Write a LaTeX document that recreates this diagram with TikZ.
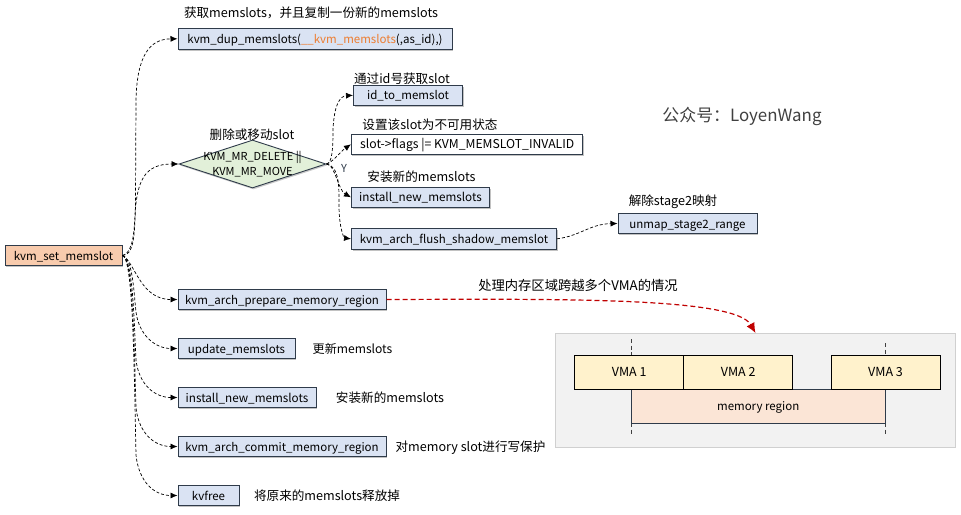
\documentclass[tikz,border=0pt]{standalone}
\usepackage{fontspec}
\setmainfont{Noto Sans CJK SC}
\usetikzlibrary{arrows.meta,shapes.geometric,shadows}
\definecolor{edgeC}{HTML}{2F3B4A}
\definecolor{blueF}{HTML}{DAE3F3}
\definecolor{orangeF}{HTML}{F8CBAD}
\definecolor{greenF}{HTML}{E2F0D9}
\definecolor{vmaF}{HTML}{FFF2CC}
\definecolor{memF}{HTML}{FBE5D6}
\definecolor{panelF}{HTML}{F2F2F2}
\definecolor{panelD}{HTML}{D0D0D0}
\definecolor{redC}{HTML}{C00000}
\definecolor{orangeT}{HTML}{ED7D31}
\tikzset{
 txt/.style={inner sep=0pt,font=\fontsize{11.5}{13}\selectfont,text=black,text height=11pt,text depth=2pt},
 base/.style={txt,draw=edgeC,line width=1pt,
   drop shadow={shadow xshift=1pt,shadow yshift=-1.5pt,fill=black!40,opacity=0.6}},
 bluebox/.style={base,fill=blueF,minimum height=20.5pt},
 whitebox/.style={base,fill=white,minimum height=20.5pt},
 rootbox/.style={base,fill=orangeF,minimum height=20.5pt},
 vma/.style={txt,font=\fontsize{12.5}{14}\selectfont,draw=black,line width=0.8pt,fill=vmaF,minimum width=109pt,minimum height=34pt},
 label/.style={txt,font=\fontsize{12.6}{14}\selectfont},
 conn/.style={draw=black,line width=0.7pt,dash pattern=on 3pt off 2pt,-{Latex[length=7pt,width=6pt]}},
 guide/.style={draw=black!75,line width=0.7pt,dash pattern=on 4pt off 2.5pt},
}
\begin{document}
\begin{tikzpicture}[x=1pt,y=-1pt]
\useasboundingbox (0,0) rectangle (961,514);
% panel
\node[draw=panelD,line width=0.8pt,fill=panelF,minimum width=399.5pt,minimum height=113.5pt,inner sep=0pt,
  drop shadow={shadow xshift=0.8pt,shadow yshift=-1pt,fill=black!25,opacity=0.5}] (panel) at (755.2,390.5) {};
\coordinate (g1a) at (631,339); \coordinate (g1b) at (631,355);
\coordinate (g2a) at (885.5,343); \coordinate (g2b) at (885.5,355);
\coordinate (g3a) at (631,423); \coordinate (g3b) at (631,435);
\coordinate (g4a) at (885.5,423); \coordinate (g4b) at (885.5,435);
\draw[guide] (g1a)--(g1b); \draw[guide] (g2a)--(g2b); \draw[guide] (g3a)--(g3b); \draw[guide] (g4a)--(g4b);
\node[txt,draw=edgeC,line width=0.8pt,fill=memF,minimum width=254.5pt,minimum height=34pt] (mem) at (758.2,406) {memory region};
\node[vma] (v1) at (629.2,372.3) {VMA 1};
\node[vma] (v2) at (738.2,372.3) {VMA 2};
\node[vma] (v3) at (885.5,372.3) {VMA 3};
% boxes
\node[rootbox,minimum width=117pt] (root) at (63.5,255.5) {kvm\_set\_memslot};
\node[bluebox,minimum width=274pt] (dup) at (315,38.8) {kvm\_dup\_memslots(\textcolor{orangeT}{\_\_kvm\_memslots}(,as\_id),)};
\node[draw=edgeC,line width=0.9pt,diamond,fill=greenF,minimum width=147pt,minimum height=48pt,aspect=3.06,inner sep=0pt,
  drop shadow={shadow xshift=1pt,shadow yshift=-1.5pt,fill=black!35,opacity=0.6}] (dia) at (252.5,164) {};
\node[inner sep=0pt,align=center,font=\fontsize{11}{15}\selectfont] (diat) at (dia.center) {KVM\_MR\_DELETE ||\\KVM\_MR\_MOVE};
\node[bluebox,minimum width=109pt] (idm) at (408,95.3) {id\_to\_memslot};
\node[whitebox,minimum width=231.5pt,font=\fontsize{12.2}{14}\selectfont] (flags) at (467.2,144.3) {slot->flags |= KVM\_MEMSLOT\_INVALID};
\node[bluebox,minimum width=138pt,font=\fontsize{11.7}{13}\selectfont] (inst1) at (420.5,197.3) {install\_new\_memslots};
\node[bluebox,minimum width=205pt] (flush) at (454,238.8) {kvm\_arch\_flush\_shadow\_memslot};
\node[bluebox,minimum width=139pt] (unmap) at (687.5,223.5) {unmap\_stage2\_range};
\node[bluebox,minimum width=208pt] (prep) at (282,299.5) {kvm\_arch\_prepare\_memory\_region};
\node[bluebox,minimum width=117pt] (upd) at (236.5,348.5) {update\_memslots};
\node[bluebox,minimum width=138pt,font=\fontsize{11.7}{13}\selectfont] (inst2) at (247,397.5) {install\_new\_memslots};
\node[bluebox,minimum width=208pt] (com) at (282,446.5) {kvm\_arch\_commit\_memory\_region};
\node[bluebox,minimum width=61pt] (free) at (208.5,495.5) {kvfree};
% labels
\node[label] (t1) at (311,13) {获取memslots，并且复制一份新的memslots};
\node[label] (t2) at (402,78.5) {通过id号获取slot};
\node[label] (t3) at (430,125) {设置该slot为不可用状态};
\node[label] (t4) at (421.5,176.5) {安装新的memslots};
\node[label] (t5) at (252,134.5) {删除或移动slot};
\node[label] (t6) at (673,200.5) {解除stage2映射};
\node[label,font=\fontsize{13.3}{15}\selectfont] (t7) at (578,285.5) {处理内存区域跨越多个VMA的情况};
\node[label,font=\fontsize{12.1}{14}\selectfont] (t8) at (352.5,349) {更新memslots};
\node[label] (t9) at (390,397.5) {安装新的memslots};
\node[label] (t10) at (470.5,447) {对memory slot进行写保护};
\node[label] (t11) at (327,495.5) {将原来的memslots释放掉};
\node[inner sep=0pt,font=\fontsize{16.9}{19}\selectfont,text=black!75] (brand) at (742,116.5) {公众号：LoyenWang};
% connectors
\draw[conn] (root.east) .. controls (133,255) and (135,240) .. (135.5,200) -- (136,100) .. controls (137,55) and (150,39) .. (dup.west);
\draw[conn] (root.east) .. controls (131,253) and (134,240) .. (135,215) .. controls (137,180) and (145,164) .. (dia.west);
\draw[conn] (root.east) .. controls (135,262) and (140,299.5) .. (prep.west);
\draw[conn] (root.east) .. controls (133,258) and (134,295) .. (136,312) .. controls (139,335) and (155,348.5) .. (upd.west);
\draw[conn] (root.east) .. controls (133,258) and (134,320) .. (136,360) .. controls (139,385) and (155,397.5) .. (inst2.west);
\draw[conn] (root.east) .. controls (133,258) and (134,340) .. (136,408) .. controls (139,434) and (155,446.5) .. (com.west);
\draw[conn] (root.east) .. controls (133,258) and (134,360) .. (136,455) .. controls (139,483) and (155,495.5) .. (free.west);
\draw[conn] (dia.east) .. controls (332,163) and (333,150) .. (333,130) .. controls (334,105) and (340,96) .. (idm.west);
\draw[conn] (dia.east) .. controls (333,162) and (340,152) .. (flags.west);
\draw[conn] (dia.east) .. controls (335,164) and (338,190) .. (inst1.west);
\draw[conn] (dia.east) .. controls (340,166) and (339,190) .. (339,205) .. controls (339,228) and (344,238) .. (flush.west);
\draw[conn] (flush.east) .. controls (580,236) and (590,224) .. (unmap.west);
\draw[draw=redC,line width=1.2pt,dash pattern=on 5pt off 3pt,-{Latex[length=10pt,width=9pt]}] (prep.east) .. controls (560,299) and (735,297) .. (755.5,333);
\node[inner sep=0pt,font=\fontsize{11}{13}\selectfont,text=edgeC] (yy) at (344,168) {Y};
\end{tikzpicture}
\end{document}
